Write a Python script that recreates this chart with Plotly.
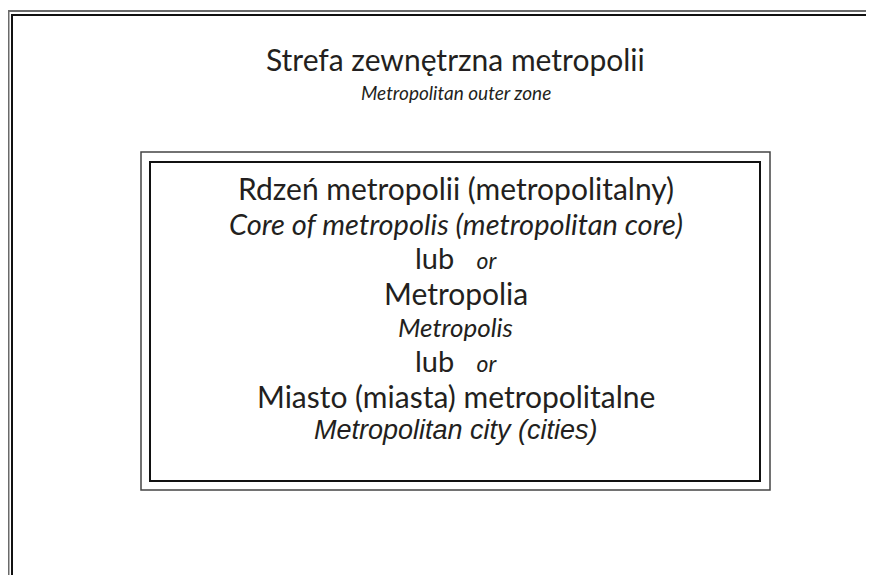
import plotly.graph_objects as go

# Text content
outer_title = "Strefa zewnętrzna metropolii"
outer_subtitle = "Metropolitan outer zone"
core_lines_pl = ["Rdzeń metropolii (metropolitalny)", "lub", "Metropolia", "lub", "Miasto (miasta) metropolitalne"]
core_lines_en = ["Core of metropolis (metropolitan core)", "or", "Metropolis", "or", "Metropolitan city (cities)"]

# Page is offset by the 8px body margin: map data coords to page pixels directly
OFF = 8
W, H = 874, 575
FONT = "Lato, 'Open Sans', sans-serif"

fig = go.Figure()
fig.update_layout(
    width=W - OFF, height=H - OFF, margin=dict(l=0, r=0, t=0, b=0),
    paper_bgcolor="white", plot_bgcolor="white", showlegend=False,
    xaxis=dict(range=[OFF, W], visible=False, fixedrange=True),
    yaxis=dict(range=[H, OFF], visible=False, fixedrange=True),
)

def rect(x0, y0, x1, y1, color, width):
    fig.add_shape(type="rect", xref="x", yref="y", x0=x0, y0=y0, x1=x1, y1=y1,
                  line=dict(color=color, width=width), fillcolor="rgba(0,0,0,0)")

# Outer zone frame (double line, extends past right/bottom edges)
rect(8.5, 11, W + 20, H + 20, "#6a6a6a", 2)
rect(12, 15, W + 20, H + 20, "#111111", 2)
# Core box (double line)
rect(141, 152, 770, 490, "#444444", 1.5)
rect(150, 162, 760, 481, "#111111", 2)

cx = 455.5
def txt(y, s, size, italic=False, family=FONT):
    if italic:
        s = "<i>" + s + "</i>"
    fig.add_annotation(x=cx, y=y, xref="x", yref="y", text=s, showarrow=False,
                       font=dict(family=family, size=size, color="#231f20"),
                       xanchor="center", yanchor="middle")

txt(59, outer_title, 30)
txt(92, outer_subtitle, 19, italic=True)

ys_pl = [188, 257, 293, 360, 396]
ys_en = [223, None, 327, None, 430]
for i, (pl, en) in enumerate(zip(core_lines_pl, core_lines_en)):
    if pl == "lub":
        s = pl + "   <i><span style='font-size:23px'>" + en + "</span></i>"
        txt(ys_pl[i], s, 29)
    else:
        txt(ys_pl[i], pl, 30)
        fam = "'Liberation Sans', Arial, sans-serif" if i == 4 else FONT
        size = {0: 29, 2: 26, 4: 27}[i]
        txt(ys_en[i], en, size, italic=True, family=fam)

fig.write_html("out.html")
